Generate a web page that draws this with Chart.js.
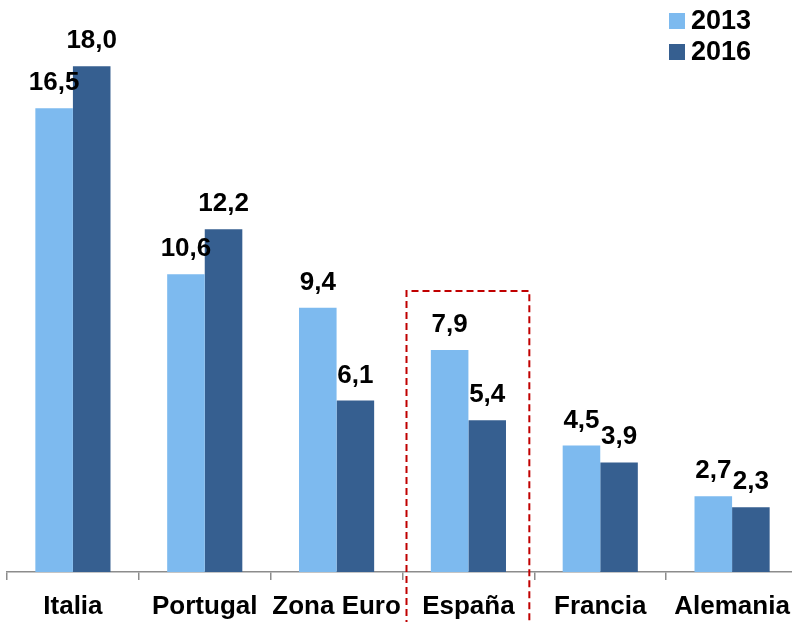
<!DOCTYPE html>
<html>
<head>
<meta charset="utf-8">
<script src="https://cdn.jsdelivr.net/npm/chart.js@4.4.1/dist/chart.umd.min.js"></script>
<style>
  html, body { margin: 0; padding: 0; background: #fff; overflow: hidden; }
  #wrap { width: 805px; height: 622px; position: relative; }
</style>
</head>
<body>
<div id="wrap"><canvas id="chart"></canvas></div>
<script>
// Datos
const paises = ['Italia', 'Portugal', 'Zona Euro', 'España', 'Francia', 'Alemania'];
const valores2013 = [16.5, 10.6, 9.4, 7.9, 4.5, 2.7];
const valores2016 = [18.0, 12.2, 6.1, 5.4, 3.9, 2.3];
const series = ['2013', '2016'];
const destacado = 'España';
const topeDestacado = 10.0;

const colores = {
    claro: '#7DBAEF',
    oscuro: '#365F90',
    eje: '#8C8C8C',
    rojo: '#C00000'
};
const familia = '"Liberation Sans", Arial, sans-serif';

// etiquetas encima de cada barra
const etiquetasPlugin = {
    id: 'etiquetas',
    afterDatasetsDraw(chart) {
        const ctx = chart.ctx;
        ctx.save();
        ctx.font = 'bold 26px ' + familia;
        ctx.fillStyle = '#000';
        ctx.textAlign = 'center';
        ctx.textBaseline = 'alphabetic';
        chart.data.datasets.forEach((ds, i) => {
            chart.getDatasetMeta(i).data.forEach((bar, j) => {
                const txt = ds.data[j].toFixed(1).replace('.', ',');
                ctx.fillText(txt, bar.x, bar.y - 18);
            });
        });
        ctx.restore();
    }
};

// recuadro rojo discontinuo y leyenda
const extrasPlugin = {
    id: 'extras',
    afterDraw(chart) {
        const ctx = chart.ctx;
        const x = chart.scales.x;
        const y = chart.scales.y;
        const idx = paises.indexOf(destacado);
        const ancho = x.width / paises.length;
        const cx = x.getPixelForValue(idx);
        ctx.save();
        ctx.strokeStyle = colores.rojo;
        ctx.lineWidth = 2;
        ctx.setLineDash([7, 4]);
        const top = y.getPixelForValue(topeDestacado);
        const l = cx - ancho / 2 + 4;
        const r = cx + ancho / 2 - 5;
        ctx.beginPath();
        ctx.moveTo(l, chart.height + 5);
        ctx.lineTo(l, top);
        ctx.lineTo(r, top);
        ctx.lineTo(r, chart.height + 5);
        ctx.stroke();
        ctx.setLineDash([]);

        // leyenda
        ctx.font = 'bold 27px ' + familia;
        ctx.textBaseline = 'middle';
        ctx.textAlign = 'left';
        chart.data.datasets.forEach((ds, i) => {
            const yy = 21 + i * 31;
            ctx.fillStyle = ds.backgroundColor;
            ctx.fillRect(669, yy - 8, 16, 16);
            ctx.fillStyle = '#000';
            ctx.fillText(ds.label, 691, yy + 1);
        });
        ctx.restore();
    }
};

new Chart(document.getElementById('chart'), {
    type: 'bar',
    data: {
        labels: paises,
        datasets: [
            { label: series[0], data: valores2013, backgroundColor: colores.claro },
            { label: series[1], data: valores2016, backgroundColor: colores.oscuro }
        ]
    },
    options: {
        responsive: true,
        maintainAspectRatio: false,
        animation: false,
        events: [],
        layout: { padding: { top: 10, left: 7, right: 7, bottom: 0 } },
        plugins: {
            legend: { display: false },
            tooltip: { enabled: false }
        },
        datasets: {
            bar: { categoryPercentage: 0.57, barPercentage: 1.0, borderWidth: 0 }
        },
        scales: {
            x: {
                grid: {
                    display: true,
                    drawOnChartArea: false,
                    drawTicks: true,
                    tickLength: 8,
                    color: colores.eje,
                    lineWidth: 1.5
                },
                border: { display: true, color: colores.eje, width: 1.5 },
                ticks: {
                    color: '#000',
                    font: { family: familia, size: 26, weight: 'bold' },
                    padding: 11,
                    maxRotation: 0,
                    autoSkip: false
                },
                afterFit(scale) { scale.height = 50; }
            },
            y: {
                display: false,
                min: 0,
                max: 20
            }
        }
    },
    plugins: [etiquetasPlugin, extrasPlugin]
});
</script>
</body>
</html>
